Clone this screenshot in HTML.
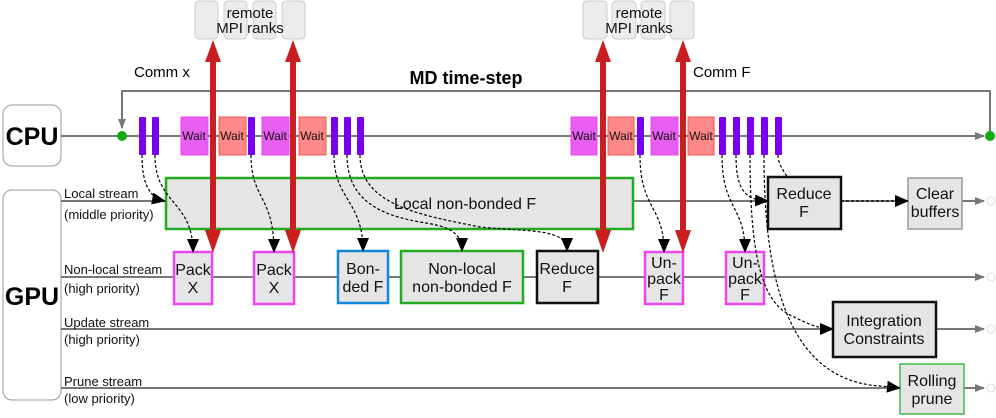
<!DOCTYPE html>
<html><head><meta charset="utf-8"><style>
html,body{margin:0;padding:0;background:#fff;}
svg{display:block;font-family:"Liberation Sans",sans-serif;}
</style></head><body>
<svg width="996" height="418" viewBox="0 0 996 418" xmlns="http://www.w3.org/2000/svg">
<defs>
<marker id="ga" markerWidth="10" markerHeight="8" refX="9" refY="4" orient="auto" markerUnits="userSpaceOnUse"><path d="M0,0 L10,4 L0,8z" fill="#777"/></marker>
<marker id="ba" markerWidth="14" markerHeight="12" refX="13" refY="6" orient="auto" markerUnits="userSpaceOnUse"><path d="M0,0 L14,6 L0,12z" fill="#000"/></marker>
</defs>
<g fill="#ececec" stroke="#ccc" stroke-width="1">
<rect x="195" y="1" width="23" height="38" rx="4"/><rect x="224" y="1" width="23" height="38" rx="4"/><rect x="253" y="1" width="23" height="38" rx="4"/><rect x="282" y="1" width="23" height="38" rx="4"/>
<rect x="583" y="1" width="24" height="38" rx="4"/><rect x="612" y="1" width="24" height="38" rx="4"/><rect x="641" y="1" width="24" height="38" rx="4"/><rect x="670" y="1" width="24" height="38" rx="4"/>
</g>
<g font-size="15" text-anchor="middle" fill="#111">
<text x="250" y="18">remote</text><text x="250" y="33">MPI ranks</text>
<text x="639" y="18">remote</text><text x="639" y="33">MPI ranks</text>
</g>
<text x="134" y="77" font-size="15">Comm x</text>
<text x="693" y="77" font-size="15">Comm F</text>
<text x="466" y="84" font-size="18" font-weight="bold" text-anchor="middle">MD time-step</text>
<path d="M990,136 L990,91 L122,91 L122,128" fill="none" stroke="#777" stroke-width="2" marker-end="url(#ga)"/>
<rect x="3" y="105" width="58" height="61" rx="9" fill="#fff" stroke="#999"/>
<text x="32" y="145" font-size="25" font-weight="bold" text-anchor="middle">CPU</text>
<line x1="61" y1="136" x2="984" y2="136" stroke="#777" stroke-width="2" marker-end="url(#ga)"/>
<circle cx="122" cy="136" r="5" fill="#1a1"/><circle cx="990" cy="136" r="5" fill="#1a1"/>
<rect x="3" y="190" width="58" height="210" rx="9" fill="#fff" stroke="#999"/>
<text x="32" y="305" font-size="25" font-weight="bold" text-anchor="middle">GPU</text>
<g stroke="#777" stroke-width="2" marker-end="url(#ga)">
<line x1="61" y1="201" x2="984" y2="201"/><line x1="61" y1="277" x2="984" y2="277"/>
<line x1="61" y1="329" x2="984" y2="329"/><line x1="61" y1="388" x2="984" y2="388"/>
</g>
<g fill="#fff" stroke="#ddd"><circle cx="991" cy="201" r="4"/><circle cx="991" cy="277" r="4"/><circle cx="991" cy="329" r="4"/><circle cx="991" cy="388" r="4"/></g>
<g font-size="13" fill="#111">
<text x="64" y="198">Local stream</text><text x="64" y="219">(middle priority)</text>
<text x="64" y="274">Non-local stream</text><text x="64" y="293">(high priority)</text>
<text x="64" y="327">Update stream</text><text x="64" y="344">(high priority)</text>
<text x="64" y="386">Prune stream</text><text x="64" y="403">(low priority)</text>
</g>
<g fill="#e5e5e5" stroke-width="2.5">
<rect x="166" y="178" width="467" height="51" stroke="#2a2"/>
<rect x="174" y="252" width="38" height="52" stroke="#e4e"/>
<rect x="254" y="252" width="40" height="52" stroke="#e4e"/>
<rect x="338" y="251" width="50" height="52" stroke="#18d"/>
<rect x="401" y="251" width="122" height="52" stroke="#2a2"/>
<rect x="537" y="251" width="61" height="52" stroke="#111"/>
<rect x="645" y="252" width="38" height="52" stroke="#e4e"/>
<rect x="726" y="252" width="38" height="52" stroke="#e4e"/>
<rect x="768" y="177" width="73" height="52" stroke="#111"/>
<rect x="908" y="178" width="54" height="51" stroke="#999" stroke-width="1.5"/>
<rect x="833" y="302" width="103" height="55" stroke="#111"/>
<rect x="900" y="364" width="64" height="50" stroke="#4b4" stroke-width="1.5"/>
</g>
<g font-size="16" text-anchor="middle" fill="#111">
<text x="465" y="209">Local non-bonded F</text>
<text x="193" y="275">Pack</text><text x="193" y="293">X</text>
<text x="274" y="275">Pack</text><text x="274" y="293">X</text>
<text x="363" y="274">Bon-</text><text x="363" y="292">ded F</text>
<text x="462" y="274">Non-local</text><text x="462" y="292">non-bonded F</text>
<text x="567" y="274">Reduce</text><text x="567" y="292">F</text>
<text x="664" y="268">Un-</text><text x="664" y="284">pack</text><text x="664" y="300">F</text>
<text x="745" y="268">Un-</text><text x="745" y="284">pack</text><text x="745" y="300">F</text>
<text x="804" y="199">Reduce</text><text x="804" y="217">F</text>
<text x="935" y="199">Clear</text><text x="935" y="217">buffers</text>
<text x="884" y="326">Integration</text><text x="884" y="344">Constraints</text>
<text x="932" y="386">Rolling</text><text x="932" y="404">prune</text>
</g>
<g font-size="12" text-anchor="middle" fill="#111">
<rect x="181" y="117" width="27" height="38" fill="#e75ef0" stroke="#e4e"/><text x="194" y="140">Wait</text>
<rect x="219" y="117" width="27" height="38" fill="#f88" stroke="#e55"/><text x="232" y="140">Wait</text>
<rect x="262" y="117" width="27" height="38" fill="#e75ef0" stroke="#e4e"/><text x="275" y="140">Wait</text>
<rect x="299" y="117" width="27" height="38" fill="#f88" stroke="#e55"/><text x="312" y="140">Wait</text>
<rect x="571" y="117" width="26" height="38" fill="#e75ef0" stroke="#e4e"/><text x="584" y="140">Wait</text>
<rect x="608" y="117" width="26" height="38" fill="#f88" stroke="#e55"/><text x="621" y="140">Wait</text>
<rect x="651" y="117" width="27" height="38" fill="#e75ef0" stroke="#e4e"/><text x="664" y="140">Wait</text>
<rect x="688" y="117" width="26" height="38" fill="#f88" stroke="#e55"/><text x="701" y="140">Wait</text>
</g>
<g fill="#7a00f0">
<rect x="139" y="117" width="7" height="38" rx="1"/><rect x="152" y="117" width="7" height="38" rx="1"/>
<rect x="248" y="117" width="7" height="38" rx="1"/>
<rect x="331" y="117" width="7" height="38" rx="1"/><rect x="344" y="117" width="7" height="38" rx="1"/><rect x="357" y="117" width="7" height="38" rx="1"/>
<rect x="637" y="117" width="7" height="38" rx="1"/>
<rect x="719" y="117" width="7" height="38" rx="1"/><rect x="733" y="117" width="7" height="38" rx="1"/><rect x="747" y="117" width="7" height="38" rx="1"/><rect x="761" y="117" width="7" height="38" rx="1"/><rect x="775" y="117" width="7" height="38" rx="1"/>
</g>
<g fill="none" stroke="#000" stroke-width="1.2" stroke-dasharray="3,2" marker-end="url(#ba)">
<path d="M142,155 C142,185 150,198 165,201"/>
<path d="M155,155 C155,205 193,200 193,252"/>
<path d="M251,155 C251,200 274,195 274,252"/>
<path d="M334,155 C334,200 363,200 363,251"/>
<path d="M347,155 C347,200 380,215 420,222 C445,226 462,230 462,251"/>
<path d="M360,155 C360,205 420,215 480,227 C530,232 567,228 567,251"/>
<path d="M640,155 C640,210 664,205 664,252"/>
<path d="M722,155 C722,210 745,205 745,252"/>
<path d="M736,155 C736,190 745,200 768,201"/>
<path d="M750,155 C750,250 760,300 790,315 C810,325 820,329 833,329"/>
<path d="M764,155 C764,260 780,380 880,386 L900,388"/>
<path d="M841,201 L908,201"/>
</g>
<path d="M778,155 C778,165 785,172 787,177" fill="none" stroke="#000" stroke-width="1.2" stroke-dasharray="3,2"/>
<g fill="#c82020">
<g><rect x="210" y="62" width="6" height="170"/><path d="M205,62 L213,40 L221,62z M205,230 L221,230 L213,253z"/></g>
<g><rect x="290" y="62" width="6" height="170"/><path d="M285,62 L293,40 L301,62z M285,230 L301,230 L293,253z"/></g>
<g><rect x="600" y="62" width="6" height="170"/><path d="M595,62 L603,40 L611,62z M595,230 L611,230 L603,253z"/></g>
<g><rect x="680" y="62" width="6" height="170"/><path d="M675,62 L683,40 L691,62z M675,230 L691,230 L683,253z"/></g>
</g>
</svg>
</body></html>
